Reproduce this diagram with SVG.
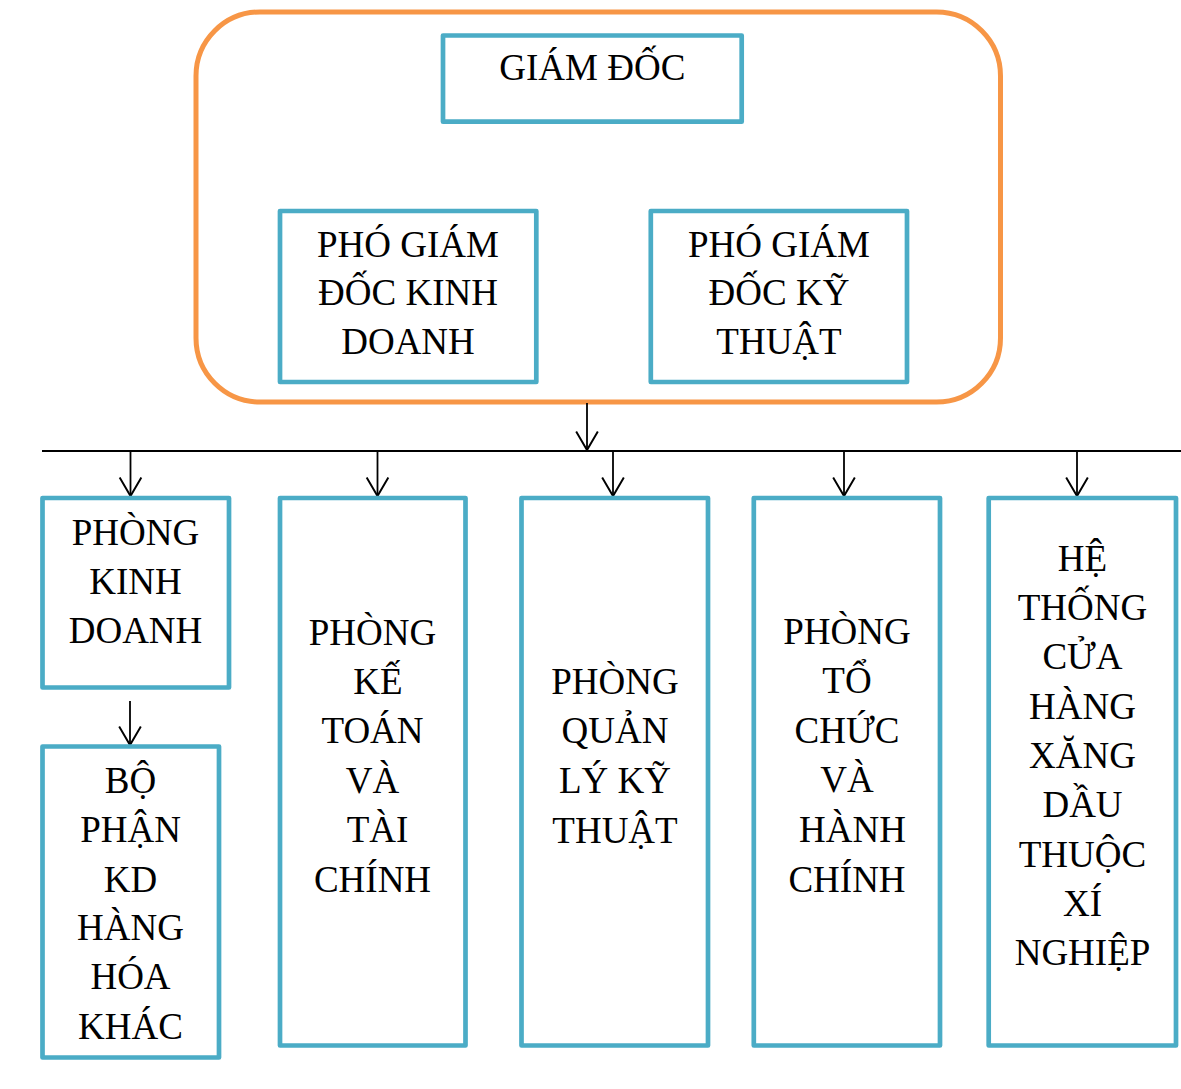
<svg xmlns="http://www.w3.org/2000/svg" width="1181" height="1089" viewBox="0 0 1181 1089">
<defs>
<style>
.box{fill:#fff;stroke:#4BACC6;stroke-width:4.7;stroke-linejoin:round}
.grp{fill:#fff;stroke:#F79646;stroke-width:5}
.t{font-family:"Liberation Serif","Times New Roman",serif;font-size:37px;fill:#000;text-anchor:middle}
.ln{fill:none;stroke:#000;stroke-width:2}
.ar{fill:none;stroke:#000;stroke-width:1.8;marker-end:url(#arr)}
</style>
<marker id="arr" markerUnits="userSpaceOnUse" markerWidth="26" markerHeight="26" viewBox="-2 -12 22 24" refX="18" refY="0" orient="auto">
<path d="M1,-10 L18,0 L1,10" fill="none" stroke="#000" stroke-width="1.8"/>
</marker>
</defs>
<rect width="1181" height="1089" fill="#fff"/>

<g id="ban-giam-doc">
<rect class="grp" x="196" y="12" width="804.5" height="390" rx="64" ry="64"/>
</g>

<g id="giam-doc">
<rect class="box" x="443" y="35.5" width="298.7" height="86.2"/>
<text class="t" x="592.3" y="80">GIÁM ĐỐC</text>
</g>

<g id="pgd-kinh-doanh">
<rect class="box" x="280" y="211" width="256.3" height="171"/>
<text class="t" x="408" y="256.7">PHÓ GIÁM</text>
<text class="t" x="408" y="305">ĐỐC KINH</text>
<text class="t" x="408" y="354">DOANH</text>
</g>

<g id="pgd-ky-thuat">
<rect class="box" x="650.8" y="211" width="256.2" height="171"/>
<text class="t" x="779" y="256.7">PHÓ GIÁM</text>
<text class="t" x="779" y="305">ĐỐC KỸ</text>
<text class="t" x="779" y="354">THUẬT</text>
</g>

<g id="connectors">
<line class="ar" x1="587" y1="403" x2="587" y2="450"/>
<line class="ln" x1="42" y1="451" x2="1181" y2="451"/>
<line class="ar" x1="130.5" y1="451" x2="130.5" y2="496"/>
<line class="ar" x1="377.5" y1="451" x2="377.5" y2="496"/>
<line class="ar" x1="613" y1="451" x2="613" y2="496"/>
<line class="ar" x1="844" y1="451" x2="844" y2="496"/>
<line class="ar" x1="1077" y1="451" x2="1077" y2="496"/>
<line class="ar" x1="130" y1="701" x2="130" y2="745"/>
</g>

<g id="phong-kinh-doanh">
<rect class="box" x="42.5" y="498" width="186.5" height="189.5"/>
<text class="t" x="135.5" y="545">PHÒNG</text>
<text class="t" x="135.5" y="594">KINH</text>
<text class="t" x="135.5" y="643">DOANH</text>
</g>

<g id="bo-phan-kd">
<rect class="box" x="42.5" y="746.5" width="176.5" height="311"/>
<text class="t" x="130.5" y="793">BỘ</text>
<text class="t" x="130.5" y="842">PHẬN</text>
<text class="t" x="130.5" y="892">KD</text>
<text class="t" x="130.5" y="940">HÀNG</text>
<text class="t" x="130.5" y="989">HÓA</text>
<text class="t" x="130.5" y="1039">KHÁC</text>
</g>

<g id="phong-ke-toan">
<rect class="box" x="280" y="498" width="185.5" height="547.5"/>
<text class="t" x="372.5" y="645">PHÒNG</text>
<text class="t" x="378" y="694">KẾ</text>
<text class="t" x="372.5" y="743">TOÁN</text>
<text class="t" x="372.5" y="793">VÀ</text>
<text class="t" x="377.5" y="842">TÀI</text>
<text class="t" x="372.5" y="892">CHÍNH</text>
</g>

<g id="phong-quan-ly-ky-thuat">
<rect class="box" x="521.5" y="498" width="186.5" height="547.5"/>
<text class="t" x="615" y="694">PHÒNG</text>
<text class="t" x="615" y="743.3">QUẢN</text>
<text class="t" x="615" y="793.3">LÝ KỸ</text>
<text class="t" x="615" y="843.3">THUẬT</text>
</g>

<g id="phong-to-chuc">
<rect class="box" x="753.8" y="498" width="186.2" height="547.5"/>
<text class="t" x="847" y="644">PHÒNG</text>
<text class="t" x="847" y="693">TỔ</text>
<text class="t" x="847" y="743">CHỨC</text>
<text class="t" x="847" y="792">VÀ</text>
<text class="t" x="852.5" y="842">HÀNH</text>
<text class="t" x="847" y="892">CHÍNH</text>
</g>

<g id="he-thong-cua-hang">
<rect class="box" x="988.7" y="498" width="187.3" height="547.5"/>
<text class="t" x="1082.5" y="571">HỆ</text>
<text class="t" x="1082.5" y="620">THỐNG</text>
<text class="t" x="1082.5" y="669">CỬA</text>
<text class="t" x="1082.5" y="719">HÀNG</text>
<text class="t" x="1082.5" y="768">XĂNG</text>
<text class="t" x="1082.5" y="817">DẦU</text>
<text class="t" x="1082.5" y="867">THUỘC</text>
<text class="t" x="1082.5" y="916">XÍ</text>
<text class="t" x="1082.5" y="965">NGHIỆP</text>
</g>
</svg>
